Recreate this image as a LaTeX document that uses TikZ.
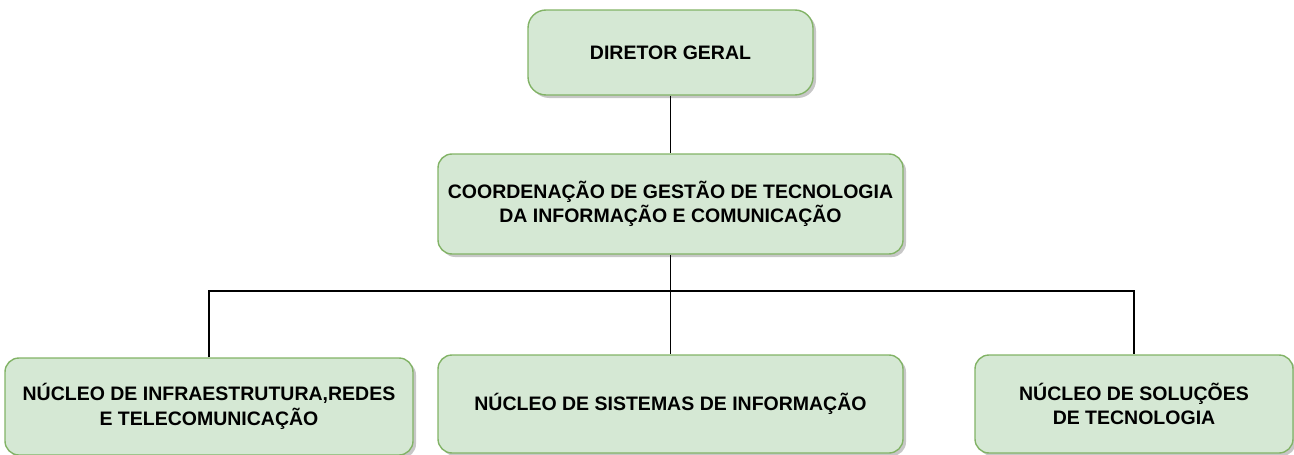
\documentclass[tikz,border=0pt]{standalone}
\usepackage{fontspec}
\setmainfont{Liberation Sans}
\usetikzlibrary{shadows}
\definecolor{boxfill}{HTML}{D5E8D4}
\definecolor{boxline}{HTML}{82B366}
\begin{document}
\begin{tikzpicture}[x=1pt,y=-1pt,
  orgbox/.style={draw=boxline, fill=boxfill, line width=1.4pt, rounded corners=14pt,
    align=center, inner sep=0pt,
    font=\fontsize{19.5}{24.5}\selectfont\bfseries,
    drop shadow={shadow xshift=3pt, shadow yshift=-3pt, fill=black, opacity=0.22}},
  conn/.style={draw=black, line width=1.3pt}]
\useasboundingbox (0,0) rectangle (1294,455);
\node[orgbox, rounded corners=18pt, minimum width=285pt, minimum height=85pt] (dir) at (670.5,52.5) {DIRETOR GERAL};
\node[orgbox, minimum width=465pt, minimum height=100pt] (coord) at (670.5,204) {COORDENAÇÃO DE GESTÃO DE TECNOLOGIA\\DA INFORMAÇÃO E COMUNICAÇÃO};
\node[orgbox, minimum width=408pt, minimum height=97pt] (infra) at (209,406.5) {NÚCLEO DE INFRAESTRUTURA,REDES\\E TELECOMUNICAÇÃO};
\node[orgbox, minimum width=465pt, minimum height=98pt] (sis) at (670.5,404) {NÚCLEO DE SISTEMAS DE INFORMAÇÃO};
\node[orgbox, minimum width=318pt, minimum height=98pt] (sol) at (1134,404) {NÚCLEO DE SOLUÇÕES\\DE TECNOLOGIA};
\coordinate (bus) at (670.5,291);
\draw[conn] (dir.south) -- (coord.north);
\draw[conn] (coord.south) -- (sis.north);
\draw[conn] (infra.north) -- (infra.north |- bus) -- (sol.north |- bus) -- (sol.north);
\end{tikzpicture}
\end{document}
